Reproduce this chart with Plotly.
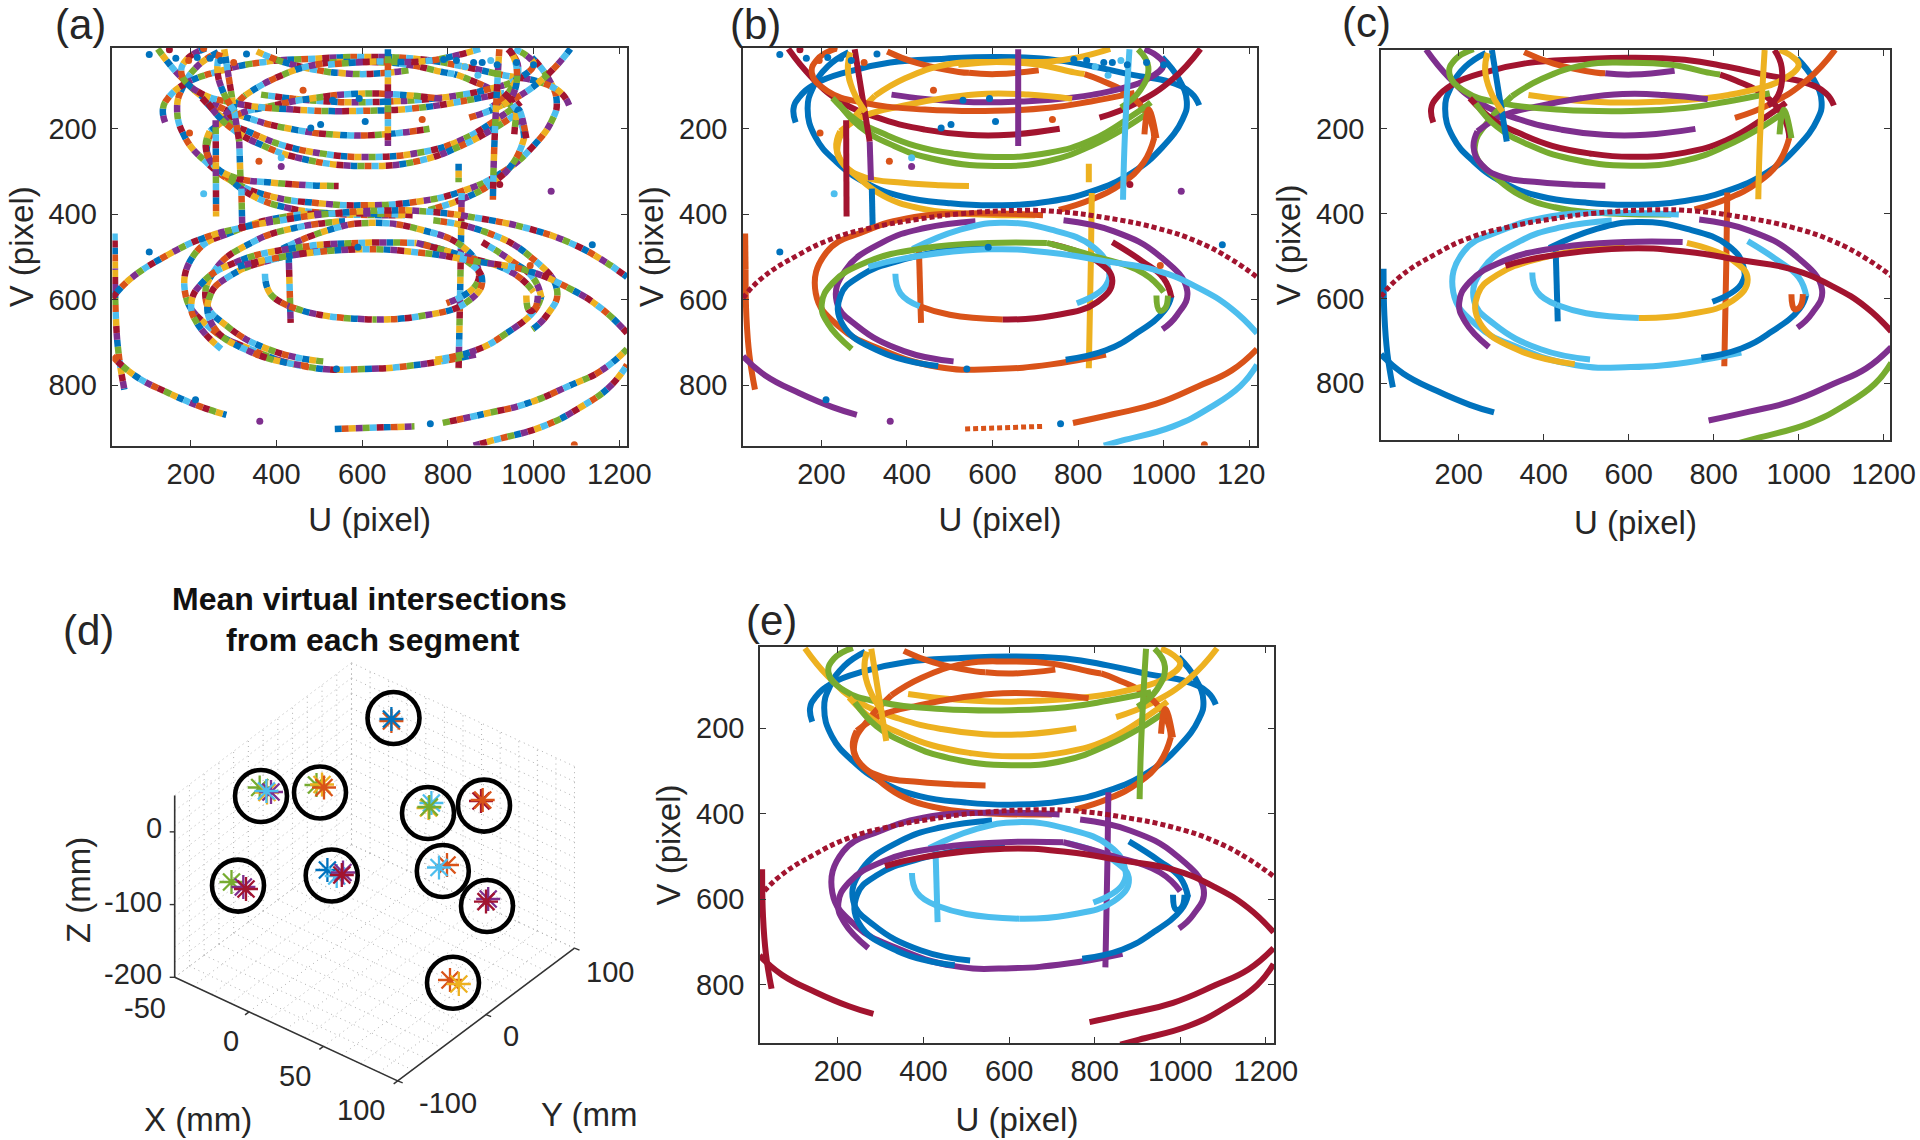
import plotly.graph_objects as go

W, H = 1920, 1140
BLUE, ORANGE, YELLOW, PURPLE, GREEN, LIGHT, RED = "#0072BD", "#D95319", "#EDB120", "#7E2F8E", "#77AC30", "#4DBEEE", "#A2142F"
PALETTE = [BLUE, ORANGE, YELLOW, PURPLE, GREEN, LIGHT, RED]
B, O, Y, P, G, L, R, N = BLUE, ORANGE, YELLOW, PURPLE, GREEN, LIGHT, RED, None

# ---- traced segments (U, V in image pixels of the camera) ----
a_low_u = [264, 215, 181, 168, 186, 235, 303, 391, 498, 605, 732, 830, 927, 996, 1044, 1054, 1035, 996]
a_low_v = [21, 54, 103, 153, 219, 277, 326, 359, 374, 379, 370, 347, 302, 244, 178, 136, 83, 33]
a_top_u = [140, 135, 147, 186, 264, 361, 488, 605, 732, 830, 927, 1015, 1064, 1083]
a_top_v = [185, 153, 128, 95, 66, 45, 36, 32, 37, 53, 74, 91, 116, 145]
u1_u = [123, 177, 246, 344, 442, 541, 639, 757]
u1_v = [13, 79, 137, 178, 202, 214, 214, 200]
u1r_u = [850, 934, 1022, 1086]
u1r_v = [174, 141, 83, 13]
u2a_u = [354, 423, 521, 545]
u2a_v = [19, 46, 67, 69]
u2b_u = [545, 609, 708]
u2b_v = [69, 72, 63]
u3a_u = [755, 832, 902, 953, 978]
u3a_v = [390, 365, 328, 279, 221]
u3b_u = [978, 968, 923, 852, 815]
u3b_v = [221, 180, 123, 86, 72]
u3c_u = [815, 791, 700, 598, 497, 396, 325]
u3c_v = [72, 68, 49, 44, 49, 82, 123]
u3d_u = [325, 264, 239, 244, 284, 345, 426, 527, 700]
u3d_v = [123, 189, 234, 271, 312, 357, 385, 398, 402]
u4_u = [364, 442, 520, 590, 665, 737, 835, 900, 960, 1000, 985, 955]
u4_v = [120, 130, 136, 138, 136, 132, 120, 106, 85, 50, 30, 14]
u5_u = [875, 800, 730, 620, 520]
u5_v = [13, 33, 43, 43, 50]
u6a_u = [786, 683, 586, 488, 391, 303, 244]
u6a_v = [130, 120, 118, 128, 146, 169, 206]
u6b_u = [244, 235, 254, 303, 391, 478, 545]
u6b_v = [206, 244, 285, 314, 326, 332, 334]
u7_u = [235, 191, 178, 215, 303, 442, 605, 732, 830, 932]
u7_v = [12, 37, 70, 112, 140, 155, 158, 151, 136, 116]
u8_u = [226, 285, 342, 420, 508, 605, 732, 830, 927, 970]
u8_v = [128, 182, 210, 240, 258, 266, 256, 227, 169, 138]
u9_u = [240, 290, 370, 460, 605, 732, 830, 908, 970]
u9_v = [140, 195, 240, 270, 287, 275, 240, 199, 158]
u10_u = [955, 965, 983]
u10_v = [213, 155, 222]
u11_u = [940, 964, 945, 900]
u11_v = [14, 55, 110, 150]
u12_u = [943, 960, 952, 928]
u12_v = [14, 55, 120, 145]
v1_u = [920, 915, 908, 905]
v1_v = [14, 100, 250, 366]
v2_u = [660, 660]
v2_v = [14, 240]
v3a_u = [278, 295, 313]
v3a_v = [14, 120, 230]
v3b_u = [313, 316]
v3b_v = [230, 320]
v3c_u = [318, 320]
v3c_v = [340, 430]
v4_u = [258, 259]
v4_v = [180, 405]
v5_u = [268, 262, 274, 303]
v5_v = [21, 60, 110, 160]
v6_u = [832, 830, 825]
v6_v = [350, 500, 760]
v6s_u = [825, 825]
v6s_v = [282, 325]
v7_u = [428, 433]
v7_v = [481, 654]
v8a_u = [22, 23]
v8a_v = [445, 530]
v8b_u = [23, 25, 32, 45]
v8b_v = [530, 640, 730, 810]
l1_u = [17, 59, 148, 226, 315, 423, 521, 658, 757, 865, 983, 1081, 1159, 1218]
l1_v = [596, 551, 494, 457, 432, 412, 399, 391, 394, 408, 432, 465, 506, 547]
l2_u = [17, 69, 148, 226, 283]
l2_v = [732, 777, 818, 851, 869]
l3_u = [788, 884, 983, 1081, 1159, 1218]
l3_v = [888, 867, 843, 802, 765, 715]
l4_u = [860, 904, 1022, 1110, 1179, 1218]
l4_v = [941, 929, 896, 851, 802, 752]
l5_u = [536, 722]
l5_v = [902, 896]
l6_u = [310, 394, 590, 737, 865, 983, 1081, 1159, 1218]
l6_v = [523, 503, 482, 490, 510, 531, 572, 621, 678]
l7_u = [865, 737, 605, 473, 340, 242, 187, 212, 300, 418, 536, 718]
l7_v = [728, 751, 762, 757, 716, 663, 585, 489, 440, 406, 398, 402]
l8_u = [509, 393, 285, 236, 256, 344, 442, 560]
l8_v = [744, 720, 662, 605, 531, 465, 432, 416]
l9_u = [473, 340, 250, 245, 290, 394, 590]
l9_v = [755, 722, 658, 590, 545, 505, 472]
l10a_u = [771, 865, 934, 1002, 1018]
l10a_v = [740, 718, 680, 625, 590]
l10b_u = [1018, 1000, 950, 880]
l10b_v = [595, 550, 510, 465]
l11_u = [766, 884, 991, 1055, 1031, 997]
l11_v = [414, 440, 498, 579, 636, 669]
l12_u = [413, 521, 619, 737, 835, 870, 865, 797]
l12_v = [481, 437, 420, 436, 476, 525, 566, 608]
l13_u = [737, 845, 880, 845, 737, 624]
l13_v = [469, 510, 555, 605, 638, 646]
l14a_u = [373, 385, 430]
l14a_v = [539, 585, 615]
l14b_u = [430, 500, 624]
l14b_v = [615, 635, 646]
l15a_u = [271, 215, 201, 226, 305, 442, 590, 727]
l15a_v = [715, 655, 610, 561, 512, 479, 467, 467]
l15b_u = [727, 835, 953, 1000]
l15b_v = [467, 497, 538, 582]
l16_u = [983, 990, 1003, 1010]
l16_v = [590, 625, 620, 590]

segment_u = [a_low_u, a_top_u, u1_u, u1r_u, u2a_u, u2b_u, u3a_u, u3b_u, u3c_u, u3d_u, u4_u, u5_u, u6a_u, u6b_u, u7_u, u8_u, u9_u, u10_u, u11_u, u12_u, v1_u, v2_u, v3a_u, v3b_u, v3c_u, v4_u, v5_u, v6_u, v6s_u, v7_u, v8a_u, v8b_u, l2_u, l3_u, l4_u, l5_u, l7_u, l8_u, l9_u, l10a_u, l10b_u, l11_u, l12_u, l14a_u, l14b_u, l13_u, l15a_u, l15b_u, l16_u, l6_u, l1_u]
segment_v = [a_low_v, a_top_v, u1_v, u1r_v, u2a_v, u2b_v, u3a_v, u3b_v, u3c_v, u3d_v, u4_v, u5_v, u6a_v, u6b_v, u7_v, u8_v, u9_v, u10_v, u11_v, u12_v, v1_v, v2_v, v3a_v, v3b_v, v3c_v, v4_v, v5_v, v6_v, v6s_v, v7_v, v8a_v, v8b_v, l2_v, l3_v, l4_v, l5_v, l7_v, l8_v, l9_v, l10a_v, l10b_v, l11_v, l12_v, l14a_v, l14b_v, l13_v, l15a_v, l15b_v, l16_v, l6_v, l1_v]
colors_b = [B, B, R, R, O, O, O, O, Y, Y, P, Y, Y, Y, O, G, G, O, G, N, L, P, R, P, B, R, Y, Y, Y, O, O, O, P, O, L, O, O, P, B, B, R, P, L, L, O, R, G, G, G, L, R]
colors_c = [B, R, P, O, O, P, O, R, G, G, Y, N, P, P, G, R, G, G, N, R, Y, N, B, N, N, N, Y, O, N, B, N, B, B, P, G, N, L, L, Y, B, L, P, B, L, L, Y, P, N, O, R, R]
colors_e = [B, B, Y, Y, O, O, O, O, O, O, Y, N, O, O, G, Y, G, O, G, N, G, N, Y, N, N, N, Y, P, N, L, N, R, R, R, R, N, P, B, B, B, B, P, L, L, L, L, P, P, B, R, R]
dotted_names = [l1_u, l5_u]

# isolated detections in panels (a) and (b)
iso_u = [103, 462, 531, 593, 480, 503, 607, 740, 197, 359, 411, 411, 230, 921, 1041, 1137, 103, 590, 211, 361, 759, 1095, 992, 540, 165, 195, 215, 245, 270, 300, 330, 150, 230, 790, 820, 860, 880, 900, 840, 870, 915, 960, 1000]
iso_v = [26, 110, 133, 129, 198, 190, 183, 178, 210, 276, 288, 268, 352, 330, 346, 471, 488, 477, 834, 884, 890, 939, 520, 762, 35, 40, 33, 35, 40, 45, 25, 15, 12, 38, 40, 45, 45, 40, 55, 75, 50, 45, 50]
iso_c = [B, O, B, B, B, B, B, O, O, O, P, L, L, R, P, B, B, B, B, P, B, O, O, B, B, O, B, B, B, O, B, R, O, B, B, B, B, L, L, L, B, B, B]

# ---- panel (d): projected view, values in the view's own units ----
cluster_h = [393.5, 261, 320, 428, 484, 238, 331.7, 442.8, 487, 453]
cluster_v = [718, 796, 792.5, 813, 805.6, 885.6, 875.5, 871, 906, 982.7]
star_h = [391.4, 391.4, 259.7, 267, 271, 266.4, 316.5, 322, 324, 428.5, 431.4, 429.3, 481, 482.7, 231.5, 243.3, 246, 327.4, 336.7, 343, 341.8, 447, 439, 488.2, 486, 450, 458.8]
star_v = [721, 719, 787.5, 792.5, 792, 791, 785, 784.5, 787.5, 808, 803, 807, 801, 800, 882, 887, 889, 870, 876, 872.5, 875, 865, 867.5, 899, 901.6, 980, 984]
star_c = [O, B, G, Y, P, L, G, Y, O, Y, L, G, R, O, G, P, R, B, L, P, R, O, L, P, R, O, Y]

x_ticks = [200, 400, 600, 800, 1000, 1200]
y_ticks = [200, 400, 600, 800]
FONT = "Liberation Sans"
INK = "#262626"

# panel boxes in page pixels: left, right, top, bottom; data ranges
boxes = {"a": (112.4, 627, 48, 445.6), "b": (743, 1257, 48, 445.6), "c": (1381, 1890, 50, 440), "e": (760, 1274, 647, 1043)}
ranges = {"a": ((17, 1218), (941, 11)), "b": ((17, 1218), (941, 11)), "c": ((17, 1215), (934, 14)), "e": ((18, 1219), (937, 10))}
axis_no = {"a": "", "b": "2", "c": "3", "e": "5"}
x_label_gap = {"a": 2, "b": 2, "c": 7, "e": 1}
x_title_gap = {"a": 19, "b": 19, "c": 22, "e": 22}
y_label_gap = {"a": 8, "b": 8, "c": 9, "e": 8}

fig = go.Figure()
layout = dict(width=W, height=H, margin=dict(l=0, r=0, t=0, b=0, autoexpand=False), autosize=False, showlegend=False,
              paper_bgcolor="white", plot_bgcolor="white", font=dict(family=FONT, color=INK))

for pid in ["a", "b", "c", "e"]:
    l, r, t, b = boxes[pid]
    n = axis_no[pid]
    labels = [str(v) for v in x_ticks]
    if pid == "b":
        labels[-1] = "120\u00a0\u00a0"
    layout["xaxis" + n] = dict(domain=[l / W, r / W], range=list(ranges[pid][0]), anchor="y" + n, automargin=False,
                               tickvals=x_ticks, ticktext=labels, ticks="inside", ticklen=6, tickwidth=1.4,
                               ticklabelstandoff=x_label_gap[pid],
                               tickcolor="#333", showline=True, linecolor="#333", linewidth=1.6, mirror="ticks",
                               showgrid=False, zeroline=False, tickfont=dict(size=29, color=INK, family=FONT),
                               title=dict(text="U (pixel)", font=dict(size=33, color=INK, family=FONT), standoff=x_title_gap[pid]))
    layout["yaxis" + n] = dict(domain=[1 - b / H, 1 - t / H], range=list(ranges[pid][1]), anchor="x" + n, automargin=False,
                               tickvals=y_ticks, ticks="inside", ticklen=6, tickwidth=1.4,
                               ticklabelstandoff=y_label_gap[pid],
                               tickcolor="#333", showline=True, linecolor="#333", linewidth=1.6, mirror="ticks",
                               showgrid=False, zeroline=False, tickfont=dict(size=29, color=INK, family=FONT),
                               title=dict(text="V (pixel)", font=dict(size=33, color=INK, family=FONT), standoff=5))


def add_seg(pid, u, v, color, width=6, dash="solid"):
    n = axis_no[pid]
    fig.add_trace(go.Scatter(x=u, y=v, mode="lines", xaxis="x" + n, yaxis="y" + n, hoverinfo="skip",
                             line=dict(color=color, width=width, shape="spline", smoothing=1.3, dash=dash)))


# panel (a): every segment carries beads of all seven colours
BEAD = 7
for i, (u, v) in enumerate(zip(segment_u, segment_v)):
    for k in range(7):
        slot = (k * (i % 5 + 1) + i) % 7
        pat = f"0px,{slot * BEAD}px,{BEAD}px,{(6 - slot) * BEAD}px"
        add_seg("a", u, v, PALETTE[k], width=6.5, dash=pat)

# panels (b), (c), (e): one colour per segment
for pid, cols in (("b", colors_b), ("c", colors_c), ("e", colors_e)):
    for u, v, col in zip(segment_u, segment_v, cols):
        if col is None:
            continue
        dotted = any(u is d for d in dotted_names)
        add_seg(pid, u, v, col, width=5 if dotted else 6, dash="5px,3px" if dotted else "solid")

for pid in ("a", "b"):
    n = axis_no[pid]
    fig.add_trace(go.Scatter(x=iso_u, y=iso_v, mode="markers", xaxis="x" + n, yaxis="y" + n, hoverinfo="skip",
                             marker=dict(size=7, color=iso_c)))

# panel (d) uses a view axis that runs in page pixels
layout["xaxis4"] = dict(domain=[0, 660 / W], range=[0, 660], anchor="y4", visible=False)
layout["yaxis4"] = dict(domain=[0, 570 / H], range=[1140, 570], anchor="x4", visible=False)


def proj(fx, fy, fz):
    """Position in the view for fractions along the X, Y and Z axes."""
    ox, oy = 174.7, 977.3
    return (ox + fx * 223 + fy * 176.8, oy + fx * 103.6 - fy * 132.7 - fz * 181.8)


def view_line(pts, color="#b0b0b0", width=1, dash="1px,4px"):
    xs, ys = zip(*pts)
    fig.add_trace(go.Scatter(x=list(xs), y=list(ys), mode="lines", xaxis="x4", yaxis="y4", hoverinfo="skip",
                             line=dict(color=color, width=width, dash=dash)))


GRID_STEPS = 12
for i in range(GRID_STEPS + 1):
    f = i / GRID_STEPS
    view_line([proj(f, 0, 0), proj(f, 1, 0)])      # floor
    view_line([proj(0, f, 0), proj(1, f, 0)])
    view_line([proj(0, f, 0), proj(0, f, 1)])      # X wall
    view_line([proj(0, 0, f), proj(0, 1, f)])
    view_line([proj(f, 1, 0), proj(f, 1, 1)])      # Y wall
    view_line([proj(0, 1, f), proj(1, 1, f)])

view_line([proj(0, 0, 1), proj(0, 0, 0), proj(1, 0, 0), proj(1, 1, 0)], color="#333", width=1.6, dash="solid")
for fz in (0, 0.4, 0.8):   # Z ticks at -200, -100 and 0
    p = proj(0, 0, fz)
    view_line([p, (p[0] - 5, p[1])], color="#333", width=1.4, dash="solid")
for fx in (1 / 3, 2 / 3, 1):
    p = proj(fx, 0, 0)
    view_line([p, (p[0] - 4, p[1] + 3)], color="#333", width=1.4, dash="solid")
for fy in (0, 0.5, 1):
    p = proj(1, fy, 0)
    view_line([p, (p[0] + 5, p[1] + 2)], color="#333", width=1.4, dash="solid")

fig.add_trace(go.Scatter(x=star_h, y=star_v, mode="markers", xaxis="x4", yaxis="y4", hoverinfo="skip",
                         marker=dict(symbol="asterisk-open", size=20, color=star_c, line=dict(width=2.3))))
fig.add_trace(go.Scatter(x=cluster_h, y=cluster_v, mode="markers", xaxis="x4", yaxis="y4", hoverinfo="skip",
                         marker=dict(symbol="circle-open", size=52, color="black", line=dict(width=4.6))))

layout["annotations"] = []


def note(text, x, y, size, bold=False, angle=0):
    layout["annotations"].append(dict(text=f"<b>{text}</b>" if bold else text, x=x / W, y=1 - y / H, xref="paper",
                                      yref="paper", showarrow=False, xanchor="center", yanchor="middle",
                                      textangle=angle, font=dict(size=size, color=INK if not bold else "#111", family=FONT)))


note("(a)", 80, 25, 42)
note("(b)", 755, 25, 42)
note("(c)", 1366, 23, 42)
note("(d)", 88, 630, 42)
note("(e)", 771, 620, 42)
note("Mean virtual intersections", 369, 599, 32, bold=True)
note("from each segment", 373, 640, 32, bold=True)
d_tick_text = ["0", "-100", "-200", "-50", "0", "50", "100", "100", "0", "-100"]
d_tick_x = [153.6, 132.6, 132.6, 145, 230.6, 294.6, 361, 610, 511, 448]
d_tick_y = [828, 902, 974, 1008, 1041, 1075.5, 1110, 972, 1036, 1103]
for txt, tx, ty in zip(d_tick_text, d_tick_x, d_tick_y):
    note(txt, tx, ty, 29)
note("Z (mm)", 78, 890, 33, angle=-90)
note("X (mm)", 198, 1119, 33)
note("Y (mm", 589, 1114, 33)

fig.update_layout(**layout)
fig.write_html("out.html", config={"displayModeBar": False},
               post_script="document.body.style.margin='0';document.body.style.overflow='hidden';")
